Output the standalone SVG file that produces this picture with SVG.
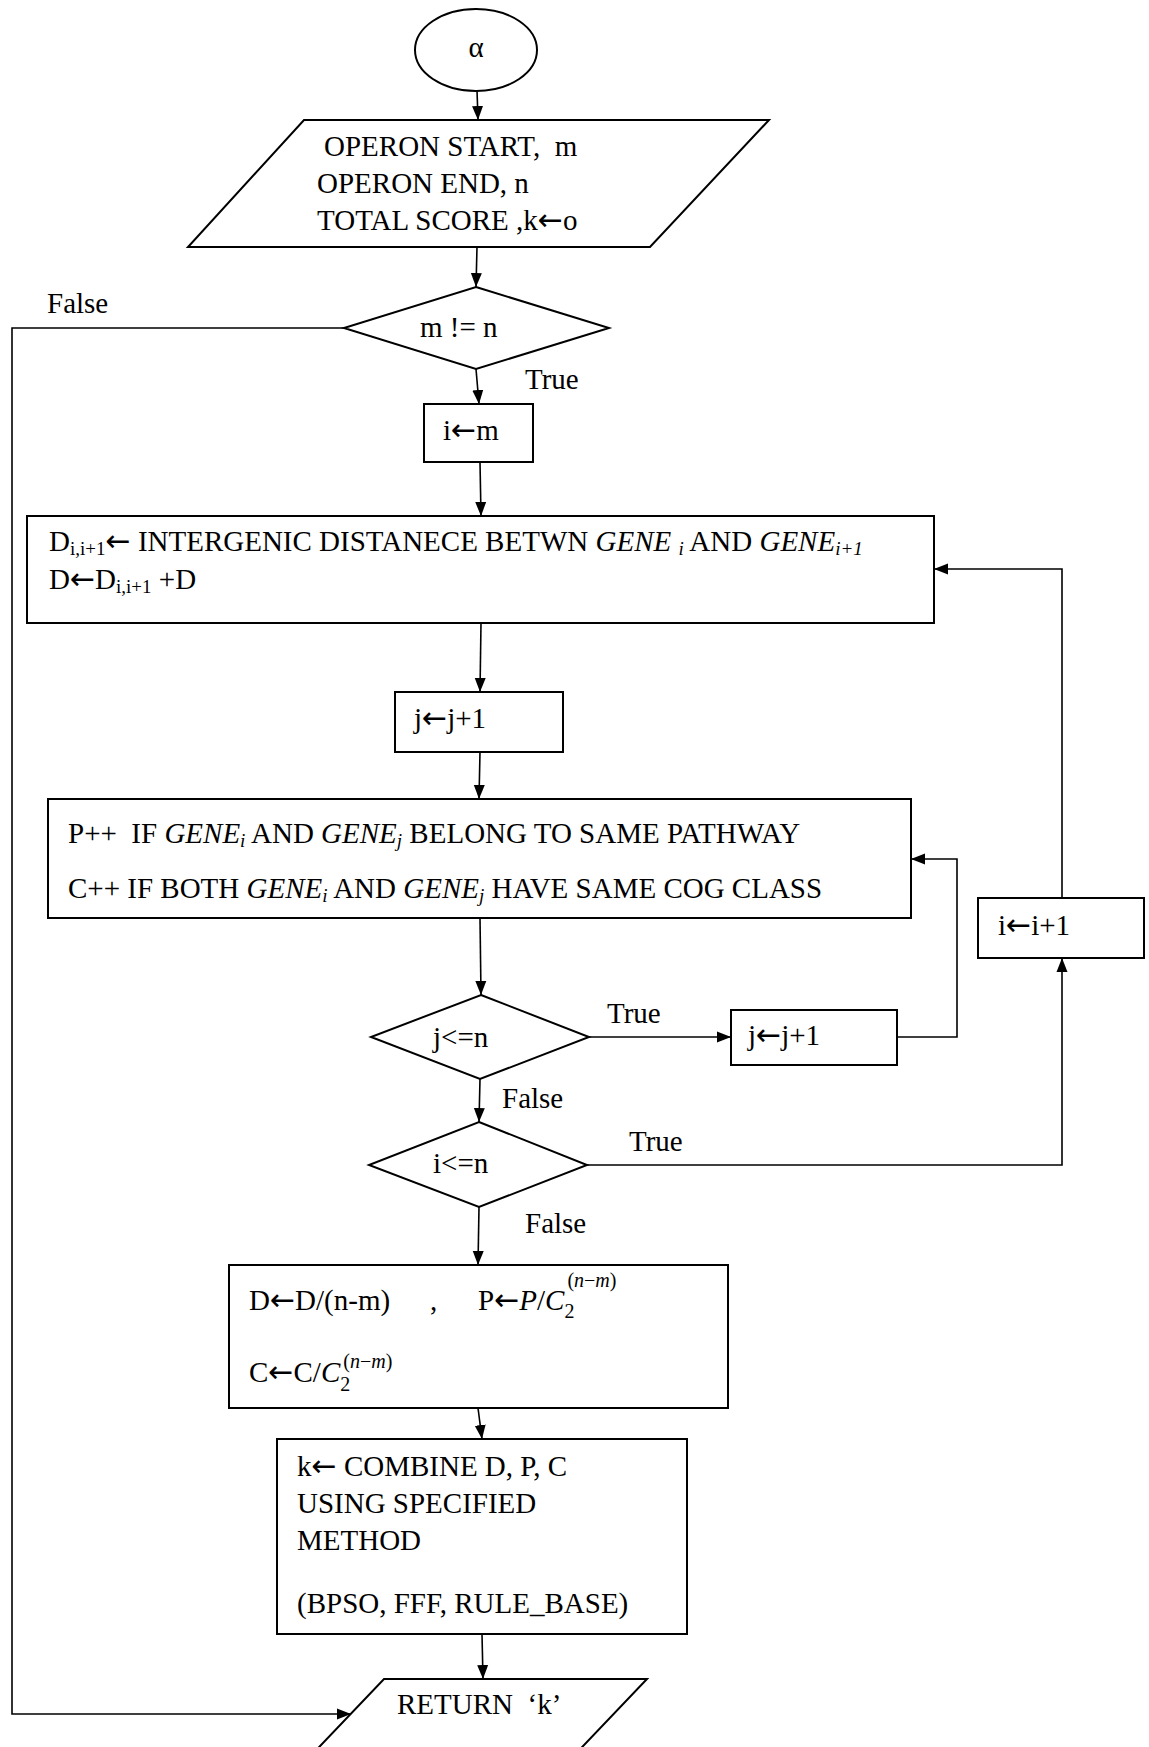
<svg xmlns="http://www.w3.org/2000/svg" width="1149" height="1747" viewBox="0 0 1149 1747">
<style>
.s{fill:#fff;stroke:#000;stroke-width:2}
.c{fill:none;stroke:#000;stroke-width:1.6}
text{font-family:"Liberation Serif","Times New Roman",serif;font-size:29px;fill:#000}
.it{font-style:italic}
.sb{font-size:19px}
.mt{font-size:20px}
.ar{font-family:"DejaVu Sans",sans-serif;font-size:30px;font-style:normal}
</style>
<defs>
<marker id="ah" markerUnits="userSpaceOnUse" markerWidth="15" markerHeight="12" refX="14" refY="6" orient="auto">
<path d="M0,0.5 L14,6 L0,11.5 z" fill="#000"/>
</marker>
</defs>
<rect width="1149" height="1747" fill="#fff"/>

<g id="connectors">
<path class="c" d="M477,90 L478,120" marker-end="url(#ah)"/>
<path class="c" d="M477,247 L476,287" marker-end="url(#ah)"/>
<path class="c" d="M476,369 L479,404" marker-end="url(#ah)"/>
<path class="c" d="M480,462 L481,516" marker-end="url(#ah)"/>
<path class="c" d="M481,623 L480,692" marker-end="url(#ah)"/>
<path class="c" d="M480,752 L479,799" marker-end="url(#ah)"/>
<path class="c" d="M480,918 L481,995" marker-end="url(#ah)"/>
<path class="c" d="M480,1079 L479,1122" marker-end="url(#ah)"/>
<path class="c" d="M479,1207 L478,1265" marker-end="url(#ah)"/>
<path class="c" d="M478,1408 L482,1439" marker-end="url(#ah)"/>
<path class="c" d="M482,1634 L483,1679" marker-end="url(#ah)"/>
<path class="c" d="M589,1037 L731,1037" marker-end="url(#ah)"/>
<path class="c" d="M897,1037 L957,1037 L957,859 L911,859" marker-end="url(#ah)"/>
<path class="c" d="M587,1165 L1062,1165 L1062,958" marker-end="url(#ah)"/>
<path class="c" d="M1062,898 L1062,569 L934,569" marker-end="url(#ah)"/>
<path class="c" d="M344,328 L12,328 L12,1714 L351,1714" stroke-width="2" marker-end="url(#ah)"/>
<text x="47" y="313">False</text>
<text x="525" y="389">True</text>
<text x="607" y="1023">True</text>
<text x="502" y="1108">False</text>
<text x="629" y="1151">True</text>
<text x="525" y="1233">False</text>
</g>

<g id="start">
<ellipse class="s" cx="476" cy="50" rx="61" ry="41"/>
<text x="476" y="57" text-anchor="middle">α</text>
</g>

<g id="input">
<polygon class="s" points="304,120 769,120 650,247 188,247"/>
<text x="324" y="156">OPERON START,&#160; m</text>
<text x="317" y="193">OPERON END, n</text>
<text x="317" y="230">TOTAL SCORE ,k<tspan class="ar">←</tspan>o</text>
</g>

<g id="cond-mn">
<polygon class="s" points="476,287 609,328 476,369 344,328"/>
<text x="420" y="337">m != n</text>
</g>

<g id="init-i">
<rect class="s" x="424" y="404" width="109" height="58"/>
<text x="443" y="440">i<tspan class="ar">←</tspan>m</text>
</g>

<g id="distance">
<rect class="s" x="27" y="516" width="907" height="107"/>
<text x="49" y="551">D<tspan class="sb" dy="4">i,i+1</tspan><tspan class="ar" dy="-4">←</tspan> INTERGENIC DISTANECE BETWN <tspan class="it">GENE </tspan><tspan class="it sb" dy="4">i</tspan><tspan dy="-4"> AND </tspan><tspan class="it">GENE</tspan><tspan class="it sb" dy="4">i+1</tspan></text>
<text x="49" y="589">D<tspan class="ar">←</tspan>D<tspan class="sb" dy="4">i,i+1</tspan><tspan dy="-4"> +D</tspan></text>
</g>

<g id="inc-j-1">
<rect class="s" x="395" y="692" width="168" height="60"/>
<text x="414" y="728">j<tspan class="ar">←</tspan>j+1</text>
</g>

<g id="count">
<rect class="s" x="48" y="799" width="863" height="119"/>
<text x="68" y="843">P++&#160; IF <tspan class="it">GENE</tspan><tspan class="it sb" dy="4">i</tspan><tspan dy="-4"> AND </tspan><tspan class="it">GENE</tspan><tspan class="it sb" dy="4">j</tspan><tspan dy="-4"> BELONG TO SAME PATHWAY</tspan></text>
<text x="68" y="898">C++ IF BOTH <tspan class="it">GENE</tspan><tspan class="it sb" dy="4">i</tspan><tspan dy="-4"> AND </tspan><tspan class="it">GENE</tspan><tspan class="it sb" dy="4">j</tspan><tspan dy="-4"> HAVE SAME COG CLASS</tspan></text>
</g>

<g id="cond-j">
<polygon class="s" points="481,995 589,1037 480,1079 371,1037"/>
<text x="433" y="1047">j&lt;=n</text>
</g>

<g id="inc-j-2">
<rect class="s" x="731" y="1010" width="166" height="55"/>
<text x="748" y="1045">j<tspan class="ar">←</tspan>j+1</text>
</g>

<g id="inc-i">
<rect class="s" x="978" y="898" width="166" height="60"/>
<text x="998" y="935">i<tspan class="ar">←</tspan>i+1</text>
</g>

<g id="cond-i">
<polygon class="s" points="479,1122 587,1165 479,1207 369,1165"/>
<text x="433" y="1173">i&lt;=n</text>
</g>

<g id="normalize">
<rect class="s" x="229" y="1265" width="499" height="143"/>
<text x="249" y="1310">D<tspan class="ar">←</tspan>D/(n-m)</text>
<text x="430" y="1310">,</text>
<text x="478" y="1310">P<tspan class="ar">←</tspan><tspan class="it">P</tspan>/<tspan class="it">C</tspan><tspan class="mt" dy="8">2</tspan><tspan class="mt" dx="-7" dy="-31">(<tspan class="it">n</tspan>−<tspan class="it">m</tspan>)</tspan></text>
<text x="249" y="1382">C<tspan class="ar">←</tspan>C/<tspan class="it">C</tspan><tspan class="mt" dy="9">2</tspan><tspan class="mt" dx="-7" dy="-23">(<tspan class="it">n</tspan>−<tspan class="it">m</tspan>)</tspan></text>
</g>

<g id="combine">
<rect class="s" x="277" y="1439" width="410" height="195"/>
<text x="297" y="1476">k<tspan class="ar">←</tspan> COMBINE D, P, C</text>
<text x="297" y="1513">USING SPECIFIED</text>
<text x="297" y="1550">METHOD</text>
<text x="297" y="1613">(BPSO, FFF, RULE_BASE)</text>
</g>

<g id="return">
<polygon class="s" points="384,1679 647,1679 565,1765 302,1765"/>
<text x="397" y="1714">RETURN&#160; ‘k’</text>
</g>
</svg>
